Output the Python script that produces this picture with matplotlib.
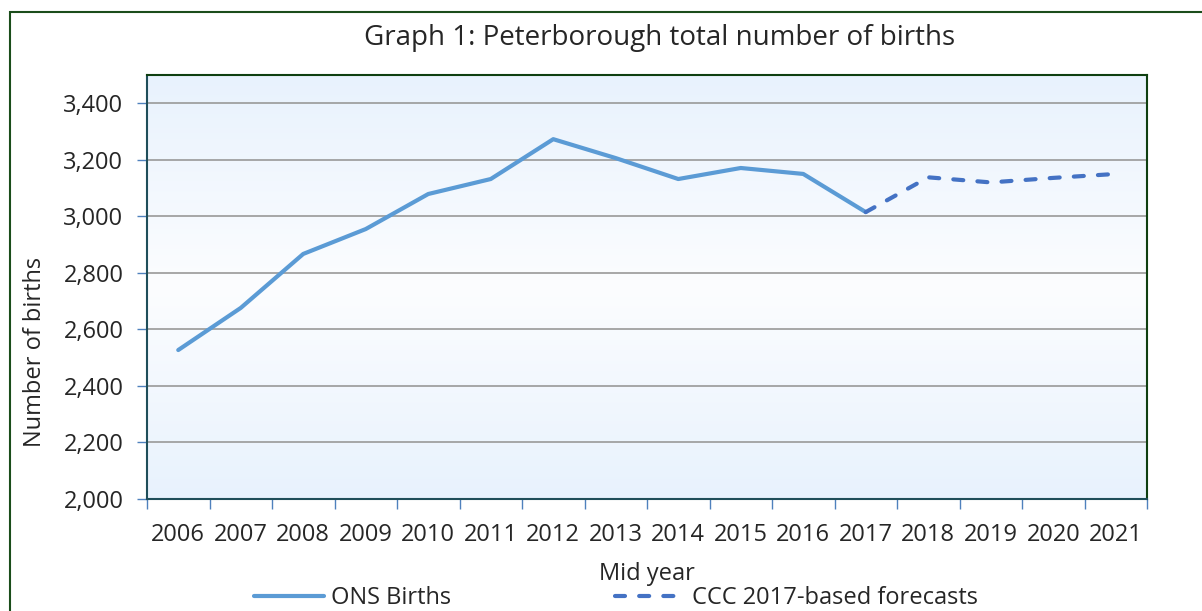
"""Peterborough total number of births, ONS actuals and CCC forecasts."""

import matplotlib

matplotlib.use("Agg")

import matplotlib.pyplot as plt
import numpy as np
from matplotlib.colors import LinearSegmentedColormap
from matplotlib.lines import Line2D
from matplotlib.patches import Rectangle

years = [str(y) for y in range(2006, 2022)]
ons_years = years[:12]
ons_births = [2527, 2676, 2867, 2955, 3079, 3132, 3273, 3206, 3132, 3171, 3150, 3015]
forecast_years = years[11:]
forecast_births = [3015, 3138, 3120, 3136, 3150]
y_ticks = [2000, 2200, 2400, 2600, 2800, 3000, 3200, 3400]

plt.rcParams["font.family"] = ["Open Sans", "DejaVu Sans"]
text_color = "#262626"
label_size = 17
dash_style = (0, (2.4, 3.4))

fig = plt.figure(figsize=(12.02, 6.11), dpi=100)
ax = fig.add_axes([147 / 1202, 1 - 499 / 611, 1000 / 1202, 424 / 611])

# outer chart border
fig.patches.append(Rectangle((10 / 1202, -0.05), 1.2, 1 - 12 / 611 + 0.05,
                             transform=fig.transFigure, fill=False,
                             edgecolor="#1b4d1b", linewidth=1.5))

# vertical gradient background: blue at edges, white in the middle
grad = LinearSegmentedColormap.from_list("bg", ["#e8f2fd", "#fcfdff", "#e8f2fd"])
ax.imshow(np.linspace(0, 1, 256).reshape(-1, 1), cmap=grad, aspect="auto",
          extent=(-0.5, 15.5, 2000, 3500), zorder=0)

x_all = np.arange(len(years))
ax.plot(x_all[:12], ons_births, color="#5b9bd5", linewidth=3, zorder=3,
        solid_capstyle="round", label="ONS Births")
ax.plot(x_all[11:], forecast_births, color="#4472c4", linewidth=3, zorder=3,
        linestyle=dash_style, dash_capstyle="round",
        label="CCC 2017-based forecasts")

ax.set_xlim(-0.5, 15.5)
ax.set_ylim(2000, 3500)
ax.set_yticks(y_ticks)
ax.set_yticklabels([f"{v:,}" for v in y_ticks])
ax.set_xticks(x_all)
ax.set_xticklabels(years)
ax.set_xticks(np.arange(-0.5, 16, 1), minor=True)
ax.tick_params(axis="x", which="major", length=0, pad=17, labelsize=label_size,
               labelcolor=text_color)
ax.tick_params(axis="x", which="minor", length=7, color="#4f81bd", width=1)
ax.tick_params(axis="y", length=7, color="#4f81bd", width=1, pad=10,
               labelsize=label_size, labelcolor=text_color)
ax.grid(axis="y", color="#999999", linewidth=1.2, zorder=1)
ax.set_axisbelow(True)

for side in ["left", "bottom"]:
    ax.spines[side].set_color("#1f4e5a")
    ax.spines[side].set_linewidth(1.5)
for side in ["top", "right"]:
    ax.spines[side].set_color("#0f3f10")
    ax.spines[side].set_linewidth(1.5)

fig.text(660 / 1202, 1 - 38 / 611, "Graph 1: Peterborough total number of births",
         ha="center", va="center", fontsize=20, color=text_color)
fig.text(35 / 1202, 1 - 352 / 611, "Number of births", rotation=90,
         ha="center", va="center", fontsize=label_size, color=text_color)
fig.text(647 / 1202, 1 - 574 / 611, "Mid year", ha="center", va="center",
         fontsize=label_size, color=text_color)

handles = [
    Line2D([], [], color="#5b9bd5", linewidth=3, solid_capstyle="round"),
    Line2D([], [], color="#4472c4", linewidth=3, linestyle=dash_style,
           dash_capstyle="round"),
]
fig.legend(handles, ["ONS Births", "CCC 2017-based forecasts"],
           loc="center", bbox_to_anchor=(616 / 1202, 1 - 598 / 611),
           ncol=2, frameon=False, fontsize=label_size, handlelength=3.0,
           handletextpad=0.3, columnspacing=6.9, labelcolor=text_color)

fig.savefig("out.png", dpi=100)
